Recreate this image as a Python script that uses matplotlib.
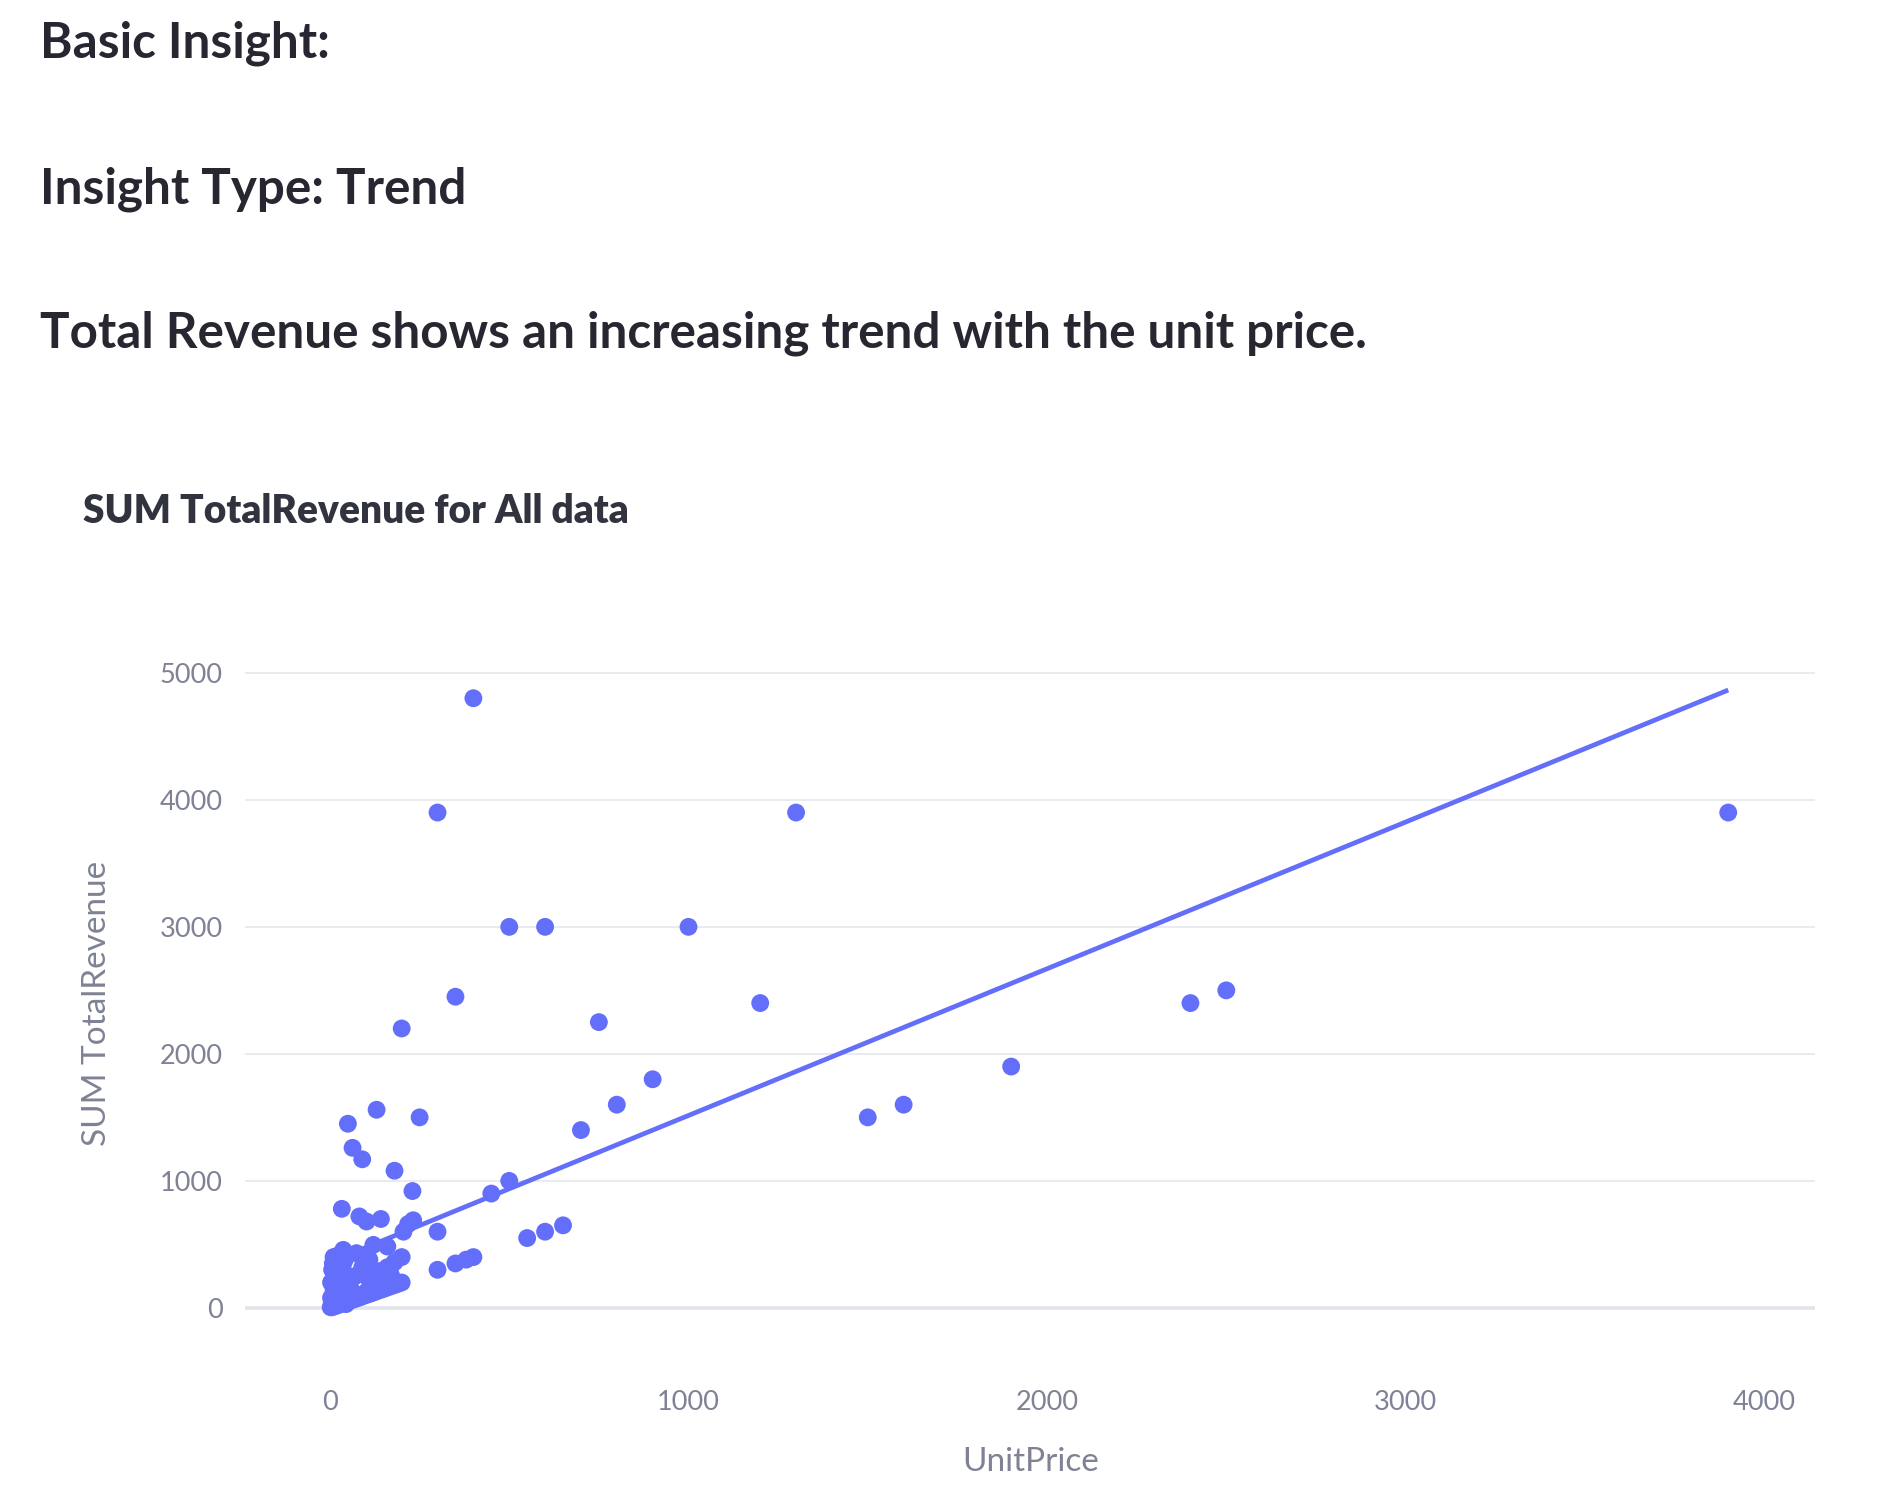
#!/usr/bin/env python3
"""Scatter of summed TotalRevenue against UnitPrice with a linear trend."""

import matplotlib

matplotlib.use("Agg")
import matplotlib.pyplot as plt

W, H = 1892, 1494

DOT = "#636efa"
GRID = "#e8ebf0"
TICK = "#7f8294"
HEAD = "#262730"
TITLE = "#31333f"

# sparse points
unit_price_outer = [400, 300, 1300, 3900, 500, 600, 1000, 350, 1200, 2400, 2500,
                    200, 750, 900, 1900, 1500, 1600, 800, 700, 130, 250, 50, 63,
                    90, 180, 230, 500, 450, 650, 600, 550, 300, 300, 350, 380, 400,
                    33, 82, 102, 142, 232, 218, 205, 37, 74, 121, 160]
revenue_outer = [4800, 3900, 3900, 3900, 3000, 3000, 3000, 2450, 2400, 2400, 2500,
                 2200, 2250, 1800, 1900, 1500, 1600, 1600, 1400, 1560, 1500, 1450, 1260,
                 1170, 1080, 920, 1000, 900, 650, 600, 550, 600, 300, 350, 380, 400,
                 780, 720, 680, 700, 690, 660, 600, 457, 431, 496, 483]

# dense cluster near the origin
unit_price_cluster = [2, 5, 10, 15, 20, 25, 30, 40, 50, 60, 70, 80, 90, 100, 110, 120,
                      130, 140, 150, 160, 170, 180, 190, 200,
                      140, 160, 180, 200, 120, 100,
                      5, 5, 8, 10, 10, 12, 15, 20, 25, 15, 20, 25, 30, 35, 40,
                      20, 30, 40, 45, 50, 70, 90, 100, 110, 30, 40, 50, 60,
                      110, 115, 120, 45, 60, 75, 95, 105, 120, 130, 150, 170,
                      3, 3, 6, 8, 12, 18, 22, 28, 35, 38, 42, 55, 65, 85,
                      10, 20, 30, 45, 100, 125]
revenue_cluster = [5, 5, 10, 15, 20, 25, 30, 40, 50, 60, 70, 80, 90, 100, 110, 120,
                   130, 140, 150, 160, 170, 180, 190, 200,
                   290, 320, 360, 400, 250, 390,
                   30, 60, 100, 150, 200, 250, 300, 350, 390, 120, 180, 240, 280, 320, 370,
                   60, 100, 150, 200, 250, 250, 320, 350, 380, 50, 80, 110, 140,
                   220, 250, 290, 30, 90, 100, 110, 135, 160, 190, 230, 260,
                   80, 200, 300, 350, 180, 280, 320, 200, 150, 260, 100, 60, 80, 90,
                   400, 410, 420, 400, 120, 140]

# fitted trend line (slope, intercept) and its x extent
trend_coef = (1.155, 360.0)
trend_x = [2, 3900]

x_ticks = [0, 1000, 2000, 3000, 4000]
y_ticks = [0, 1000, 2000, 3000, 4000, 5000]


def frac(x, y):
    return x / W, 1 - y / H


def main():
    fig = plt.figure(figsize=(W / 100, H / 100), dpi=100)
    fig.patch.set_facecolor("white")

    for text, y in [("Basic Insight:", 58),
                    ("Insight Type: Trend", 203),
                    ("Total Revenue shows an increasing trend with the unit price.", 348)]:
        fig.text(*frac(40, y), text, fontsize=35.6, fontweight="bold", family="Lato",
                 color=HEAD, va="baseline", ha="left")
    fig.text(*frac(83, 523), "SUM TotalRevenue for All data", fontsize=28,
             fontweight="heavy", family="Lato", color=TITLE, va="baseline", ha="left")

    left, right = 245, 1815
    top, bottom = 652, 1346
    ax = fig.add_axes([left / W, 1 - bottom / H, (right - left) / W, (bottom - top) / H])
    ax.set_xlim(-237, 4142)
    ax.set_ylim(-300, 5164)

    xs = unit_price_outer + unit_price_cluster
    ys = revenue_outer + revenue_cluster
    ax.scatter(xs, ys, s=165, color=DOT, edgecolor="none", zorder=3)

    slope, icpt = trend_coef
    ax.plot(trend_x, [slope * v + icpt for v in trend_x], color=DOT, lw=3.4,
            solid_capstyle="butt", zorder=4)

    ax.set_xticks(x_ticks)
    ax.set_yticks(y_ticks)
    ax.set_xticklabels([str(v) for v in x_ticks])
    ax.set_yticklabels([str(v) for v in y_ticks])
    ax.tick_params(length=0, labelsize=19.5, labelcolor=TICK)
    ax.tick_params(axis="x", pad=32)
    ax.tick_params(axis="y", pad=16)
    for lab in ax.get_xticklabels() + ax.get_yticklabels():
        lab.set_family("Lato")
    ax.grid(axis="y", color=GRID, linewidth=1.4)
    ax.axhline(0, color="#e1e4ea", linewidth=2.6, zorder=1)
    ax.set_axisbelow(True)
    for sp in ax.spines.values():
        sp.set_visible(False)

    fig.text(*frac(97, 1003), "SUM TotalRevenue", rotation=90, fontsize=24,
             family="Lato", color=TICK, ha="center", va="center")
    fig.text(*frac(1031, 1462), "UnitPrice", fontsize=24, family="Lato",
             color=TICK, ha="center", va="center")

    fig.savefig("out.png", dpi=100)
    plt.close(fig)


if __name__ == "__main__":
    main()
